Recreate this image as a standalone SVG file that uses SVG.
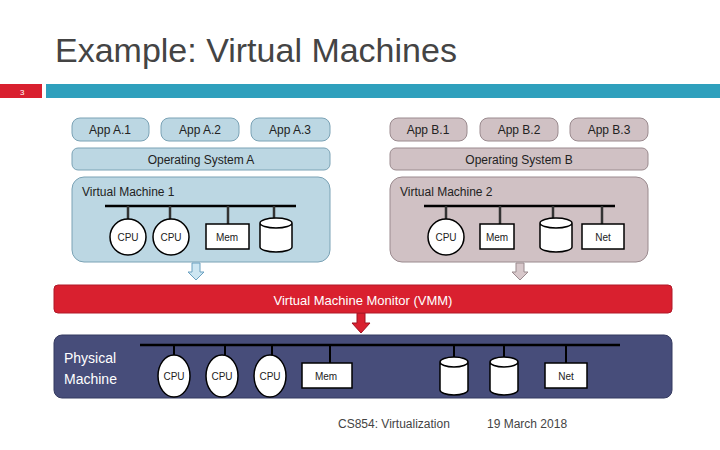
<svg xmlns="http://www.w3.org/2000/svg" width="720" height="450" viewBox="0 0 720 450">
<style>
text{font-family:"Liberation Sans",Arial,sans-serif;fill:#222}
.a{fill:#bcd7e3;stroke:#7aa2b5;stroke-width:1}
.b{fill:#d0c1c4;stroke:#9a8a8e;stroke-width:1}
.w{fill:#fff;stroke:#000;stroke-width:1.5}
.bus{stroke:#000;stroke-width:2.5}
.d{stroke:#333;stroke-width:2.5}
.t{font-size:12px;text-anchor:middle}
.s{font-size:10px;text-anchor:middle}
</style>
<rect width="720" height="450" fill="#fff"/>
<text x="55" y="62" style="font-size:34px;fill:#444">Example: Virtual Machines</text>
<rect x="0" y="84" width="42" height="14" fill="#d9202f"/>
<text x="20" y="95" style="font-size:8px;fill:#fff">3</text>
<rect x="46" y="84" width="674" height="14" fill="#2fa0bd"/>

<g id="vmA">
<rect class="a" x="72" y="118" width="77" height="23" rx="8"/><text class="t" x="110" y="134">App A.1</text>
<rect class="a" x="161" y="118" width="78" height="23" rx="8"/><text class="t" x="200" y="134">App A.2</text>
<rect class="a" x="251" y="118" width="79" height="23" rx="8"/><text class="t" x="290" y="134">App A.3</text>
<rect class="a" x="72" y="148" width="258" height="22" rx="6"/><text class="t" x="201" y="164">Operating System A</text>
<rect class="a" x="72" y="177" width="258" height="85" rx="12"/>
<text x="82" y="196" style="font-size:12px">Virtual Machine 1</text>
<line class="bus" x1="105" y1="206" x2="296" y2="206"/>
<line class="d" x1="128" y1="206" x2="128" y2="220"/><line class="d" x1="170" y1="206" x2="170" y2="220"/>
<line class="d" x1="228" y1="206" x2="228" y2="224"/><line class="d" x1="274" y1="206" x2="274" y2="218"/>
<circle class="w" cx="128" cy="237" r="18"/><text class="s" x="128" y="241">CPU</text>
<circle class="w" cx="171" cy="237" r="18"/><text class="s" x="171" y="241">CPU</text>
<rect class="w" x="206" y="224" width="43" height="25"/><text class="s" x="227" y="241">Mem</text>
<path class="w" d="M260 223 v24 a16 5 0 0 0 32 0 v-24 a16 5 0 0 0 -32 0 a16 5 0 0 0 32 0"/>
</g>

<g id="vmB">
<rect class="b" x="390" y="118" width="77" height="23" rx="8"/><text class="t" x="428" y="134">App B.1</text>
<rect class="b" x="480" y="118" width="78" height="23" rx="8"/><text class="t" x="519" y="134">App B.2</text>
<rect class="b" x="570" y="118" width="78" height="23" rx="8"/><text class="t" x="609" y="134">App B.3</text>
<rect class="b" x="390" y="148" width="258" height="22" rx="6"/><text class="t" x="519" y="164">Operating System B</text>
<rect class="b" x="390" y="177" width="258" height="85" rx="12"/>
<text x="400" y="196" style="font-size:12px">Virtual Machine 2</text>
<line class="bus" x1="424" y1="206" x2="615" y2="206"/>
<line class="d" x1="446" y1="206" x2="446" y2="220"/><line class="d" x1="500" y1="206" x2="500" y2="224"/>
<line class="d" x1="553" y1="206" x2="553" y2="218"/><line class="d" x1="602" y1="206" x2="602" y2="224"/>
<circle class="w" cx="446" cy="237" r="18"/><text class="s" x="446" y="241">CPU</text>
<rect class="w" x="480" y="224" width="34" height="25"/><text class="s" x="497" y="241">Mem</text>
<path class="w" d="M540 223 v24 a16 5 0 0 0 32 0 v-24 a16 5 0 0 0 -32 0 a16 5 0 0 0 32 0"/>
<rect class="w" x="582" y="224" width="42" height="25"/><text class="s" x="603" y="241">Net</text>
</g>

<g id="connectors">
<path d="M192 263 h8 v9 h4 l-8 8 l-8 -8 h4 z" fill="#cde6f2" stroke="#6aa0c0"/>
<path d="M516 263 h8 v9 h4 l-8 8 l-8 -8 h4 z" fill="#d8c8cb" stroke="#9a8a8e"/>
<path d="M357 313 h8 v10 h5 l-9 10 l-9 -10 h5 z" fill="#d9202f" stroke="#a01020"/>
</g>

<g id="vmm">
<rect x="54" y="285" width="618" height="28" rx="4" fill="#d9202f" stroke="#b01828"/>
<text x="363" y="305" style="font-size:13px;fill:#fff;text-anchor:middle">Virtual Machine Monitor (VMM)</text>
</g>

<g id="physical">
<rect x="54" y="335" width="618" height="63" rx="8" fill="#474d7a" stroke="#353a60"/>
<text x="64" y="363" style="font-size:14px;fill:#fff">Physical</text>
<text x="64" y="384" style="font-size:14px;fill:#fff">Machine</text>
<line class="bus" x1="140" y1="345" x2="620" y2="345"/>
<g stroke="#000" stroke-width="2">
<line x1="174" y1="345" x2="174" y2="356"/><line x1="225" y1="345" x2="225" y2="356"/><line x1="272" y1="345" x2="272" y2="356"/>
<line x1="330" y1="345" x2="330" y2="363"/><line x1="454" y1="345" x2="454" y2="358"/><line x1="504" y1="345" x2="504" y2="358"/><line x1="566" y1="345" x2="566" y2="363"/>
</g>
<ellipse class="w" cx="174" cy="376" rx="16" ry="21"/><text class="s" x="174" y="380">CPU</text>
<ellipse class="w" cx="222" cy="376" rx="16" ry="21"/><text class="s" x="222" y="380">CPU</text>
<ellipse class="w" cx="270" cy="376" rx="16" ry="21"/><text class="s" x="270" y="380">CPU</text>
<rect class="w" x="302" y="363" width="50" height="25"/><text class="s" x="326" y="380">Mem</text>
<path class="w" d="M440 362 v28 a14 5 0 0 0 28 0 v-28 a14 5 0 0 0 -28 0 a14 5 0 0 0 28 0"/>
<path class="w" d="M490 362 v28 a14 5 0 0 0 28 0 v-28 a14 5 0 0 0 -28 0 a14 5 0 0 0 28 0"/>
<rect class="w" x="545" y="363" width="42" height="25"/><text class="s" x="566" y="380">Net</text>
</g>

<text x="338" y="428" style="font-size:12px;fill:#444">CS854: Virtualization</text>
<text x="487" y="428" style="font-size:12px;fill:#444">19 March 2018</text>
</svg>
